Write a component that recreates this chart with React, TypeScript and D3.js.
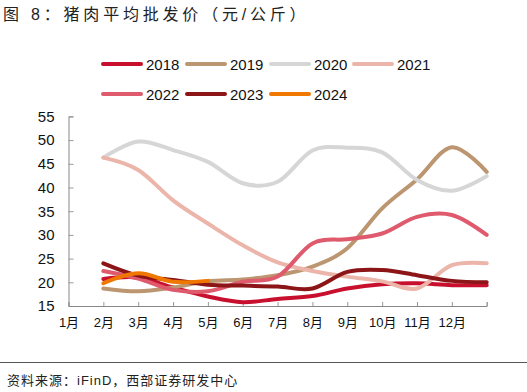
import React, { useEffect, useRef } from 'react';
import * as d3 from 'd3';

const monthLabels = ['1月', '2月', '3月', '4月', '5月', '6月', '7月', '8月', '9月', '10月', '11月', '12月'];
const yTicks = [15, 20, 25, 30, 35, 40, 45, 50, 55];

// points sit on ticks 1..12
const s2018 = [20.7, 21.0, 18.9, 17.0, 15.8, 16.5, 17.1, 18.7, 19.6, 19.8, 19.4, 19.4];
const s2019 = [18.7, 18.1, 18.9, 20.2, 20.6, 21.5, 23.3, 27.2, 35.6, 41.7, 48.5, 43.3];
const s2020 = [46.3, 49.7, 47.9, 45.4, 40.9, 41.2, 47.8, 48.4, 47.4, 41.6, 39.3, 42.4];
const s2021 = [46.3, 43.7, 37.3, 32.4, 27.8, 24.2, 22.4, 21.2, 20.2, 18.7, 23.6, 24.0];
const s2022 = [22.4, 20.8, 18.4, 18.1, 20.1, 21.2, 28.2, 29.1, 30.3, 33.8, 34.2, 30.0];
const s2023 = [24.0, 21.4, 20.5, 19.5, 19.3, 19.1, 18.7, 22.2, 22.6, 21.5, 20.3, 20.0];
const s2024 = [19.8, 21.9, 20.1, 20.3];

const series = [
  { name: '2018', color: '#c8102e', values: s2018 },
  { name: '2019', color: '#bb9670', values: s2019 },
  { name: '2020', color: '#d6d6d6', values: s2020 },
  { name: '2021', color: '#ebb5aa', values: s2021 },
  { name: '2022', color: '#de5a6c', values: s2022 },
  { name: '2023', color: '#8c1518', values: s2023 },
  { name: '2024', color: '#f07800', values: s2024 },
];

const W = 527, H = 392;
const latin = '"Liberation Sans", Arial, sans-serif';
const cjk = '"Liberation Sans", "Noto Sans CJK SC", sans-serif';

export default function App() {
  const ref = useRef<SVGSVGElement>(null);

  useEffect(() => {
    const svg = d3.select(ref.current);
    svg.selectAll('*').remove();

    const x = d3.scaleLinear().domain([0, 12]).range([68.5, 486.7]);
    const y = d3.scaleLinear().domain([15, 55]).range([306, 116.4]);

    svg.append('rect').attr('width', W).attr('height', H).attr('fill', '#fff');

    // title
    svg.append('text')
      .attr('x', 3).attr('y', 20)
      .style('font-family', cjk).style('font-size', '16px').style('letter-spacing', '3.8px')
      .style('fill', '#222')
      .text('图 8：猪肉平均批发价（元/公斤）');

    // legend
    const legendPos = [
      [101, 64], [185, 64], [269, 64], [352, 64],
      [101, 94], [185, 94], [269, 94],
    ];
    series.forEach((s, i) => {
      const [lx, ly] = legendPos[i];
      svg.append('line')
        .attr('x1', lx + 2).attr('x2', lx + 40).attr('y1', ly).attr('y2', ly)
        .attr('stroke', s.color).attr('stroke-width', 4).attr('stroke-linecap', 'round');
      svg.append('text')
        .attr('x', lx + 45).attr('y', ly + 5.5)
        .style('font-family', latin).style('font-size', '15px').style('fill', '#111')
        .text(s.name);
    });

    // axes
    const gy = svg.append('g').attr('transform', `translate(${x(0)},0)`)
      .call(d3.axisLeft(y).tickValues(yTicks).tickSize(-5).tickPadding(14));
    gy.selectAll('text').style('font-family', latin).style('font-size', '15px').style('fill', '#111');

    const gx = svg.append('g').attr('transform', `translate(0,${y(15)})`)
      .call(d3.axisBottom(x).tickValues(d3.range(0, 13)).tickSize(-4).tickPadding(12)
        .tickFormat((d) => monthLabels[+d] ?? ''));
    gx.selectAll('text').style('font-family', cjk).style('font-size', '13px').style('fill', '#111');

    svg.selectAll('.domain').attr('stroke', '#888');
    svg.selectAll('.tick line').attr('stroke', '#999');

    // lines
    const line = d3.line<number>()
      .x((_, i) => x(i + 1))
      .y((d) => y(d))
      .curve(d3.curveCatmullRom.alpha(0));

    series.forEach((s) => {
      svg.append('path')
        .datum(s.values)
        .attr('d', line)
        .attr('fill', 'none')
        .attr('stroke', s.color)
        .attr('stroke-width', 4)
        .attr('stroke-linecap', 'round')
        .attr('stroke-linejoin', 'round');
    });

    // footer
    svg.append('line')
      .attr('x1', 0).attr('x2', W).attr('y1', 362.5).attr('y2', 362.5)
      .attr('stroke', '#555').attr('stroke-width', 1);
    svg.append('text')
      .attr('x', 7).attr('y', 385)
      .style('font-family', cjk).style('font-size', '13px').style('letter-spacing', '1px')
      .style('fill', '#222')
      .text('资料来源：iFinD，西部证券研发中心');
  }, []);

  return (
    <svg ref={ref} width={W} height={H}
      style={{ position: 'absolute', left: 0, top: 0, display: 'block' }} />
  );
}
